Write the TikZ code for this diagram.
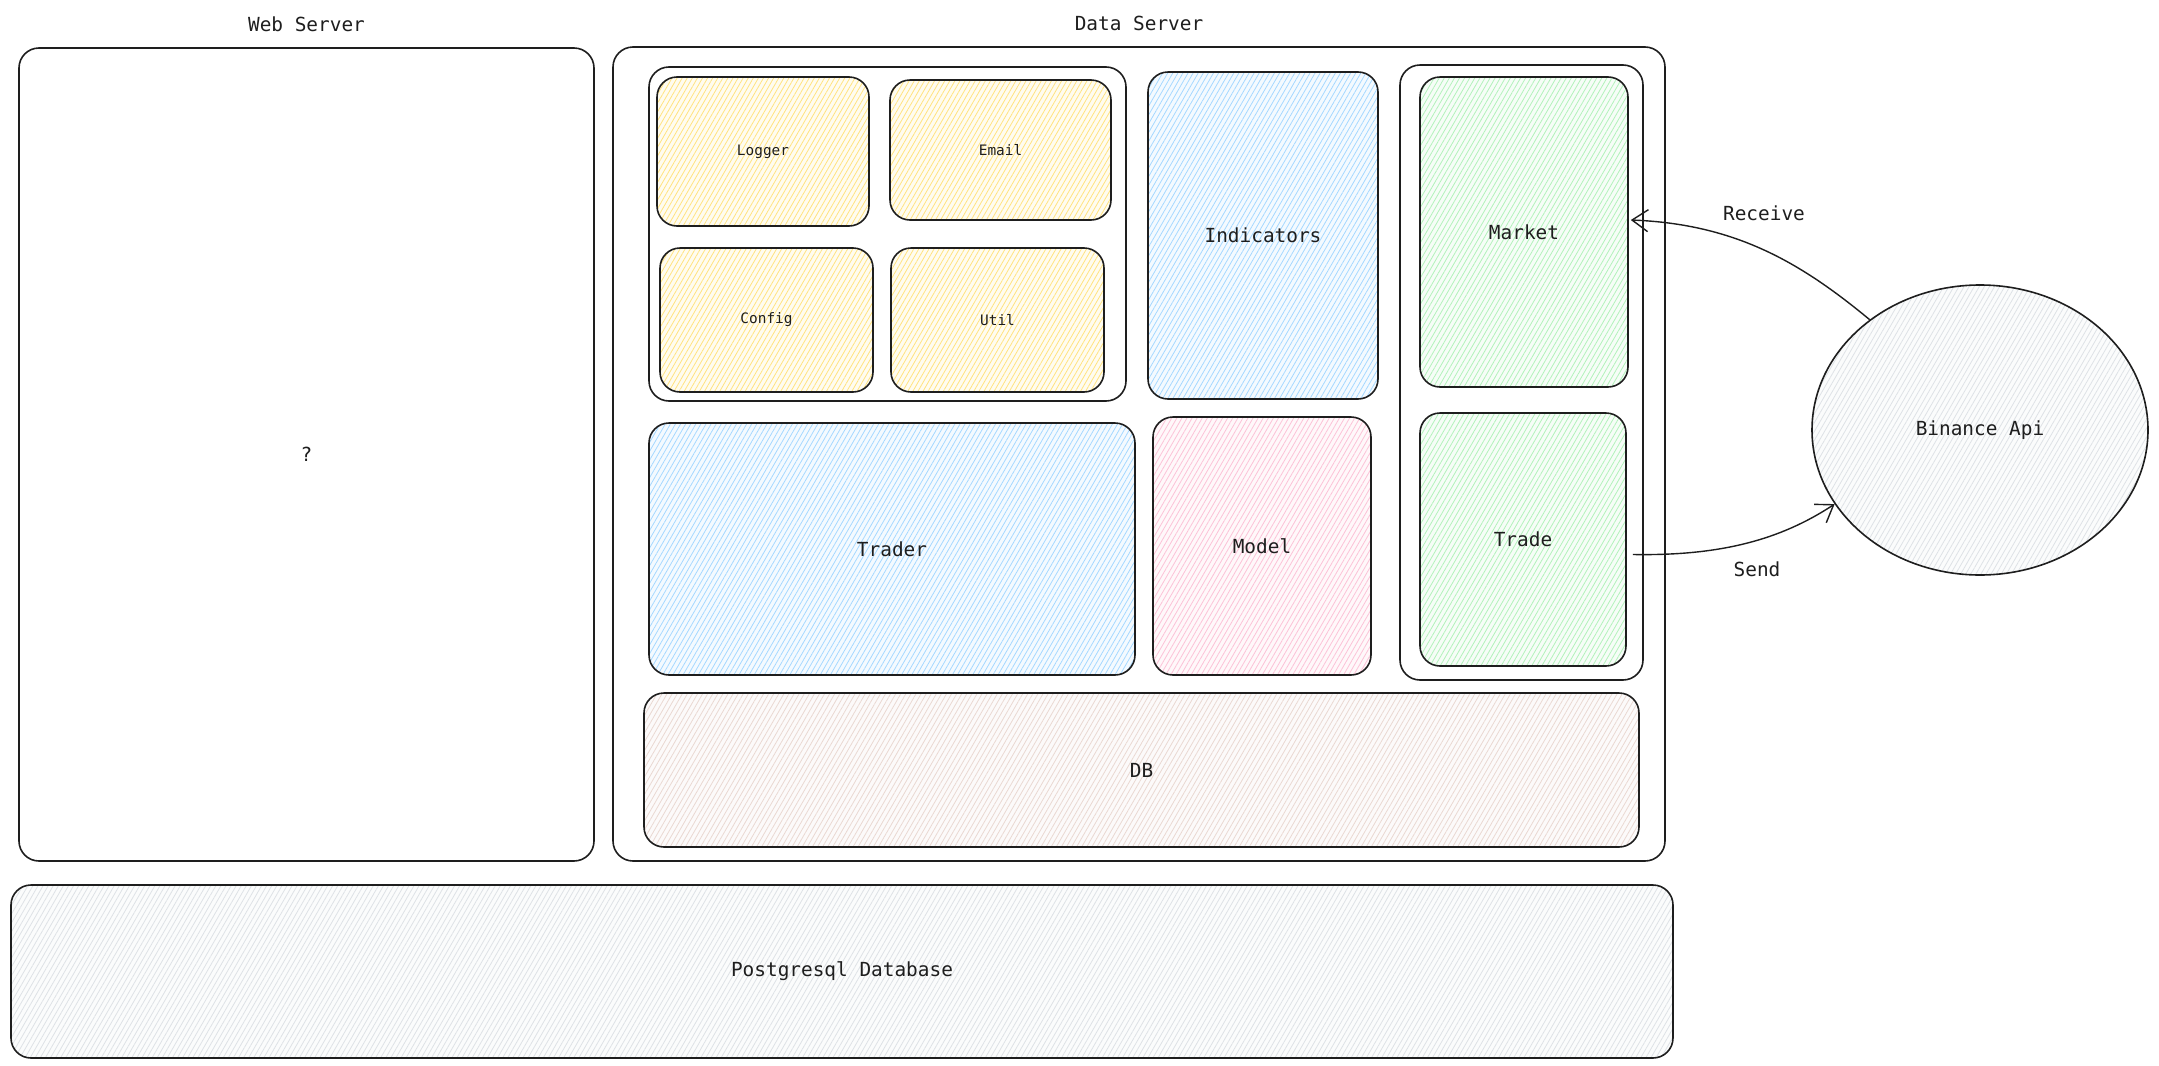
\documentclass[tikz,border=0pt]{standalone}
\usepackage{fontspec}
\setmonofont{DejaVu Sans Mono}
\usetikzlibrary{fit,positioning,calc,shapes.geometric,patterns.meta,arrows.meta}

\definecolor{ink}{HTML}{1E1E1E}
\definecolor{hyellow}{HTML}{FFE380}
\definecolor{hblue}{HTML}{A5D8FF}
\definecolor{hpink}{HTML}{FCC2D7}
\definecolor{hgreen}{HTML}{B2F2BB}
\definecolor{hsand}{HTML}{EAD8D2}
\definecolor{hgray}{HTML}{DEE2E6}

\tikzset{
  box/.style={draw=ink, line width=0.8pt, rounded corners=10pt, inner sep=0pt},
  hatch/.style={preaction={fill=#1!12},
    pattern={Lines[angle=60,distance=2.2pt,line width=0.4pt]}, pattern color=#1},
  lbl/.style={font=\ttfamily\fontsize{9.7}{12}\selectfont, text=ink},
  small/.style={font=\ttfamily\fontsize{7.2}{9}\selectfont, text=ink},
  txt/.style={label={[lbl]center:#1}},
  stxt/.style={label={[small]center:#1}},
  arr/.style={draw=ink, line width=0.7pt, -{Straight Barb[length=8pt,width=11pt]}},
}

\begin{document}
\begin{tikzpicture}[x=0.5pt,y=-0.5pt]
\fill[white] (0,0) rectangle (2159,1066);
\useasboundingbox (0,0) rectangle (2159,1066);

% servers
\node[box, txt=?, fit={(19,48) (594,861)}] (web) {};
\node[box, fit={(613,47) (1665,861)}] (data) {};
\node[lbl, above=4pt of web] (webtitle) {Web Server};
\node[lbl, above=4pt of data] (datatitle) {Data Server};

% helpers
\node[box, fit={(649,67) (1126,401)}] (helpers) {};
\node[box, stxt=Logger, hatch=hyellow, fit={(657,77) (869,226)}] (logger) {};
\node[box, stxt=Email, hatch=hyellow, fit={(890,80) (1111,220)}] (email) {};
\node[box, stxt=Config, hatch=hyellow, fit={(660,248) (873,392)}] (config) {};
\node[box, stxt=Util, hatch=hyellow, fit={(891,248) (1104,392)}] (util) {};

\node[box, txt=Indicators, hatch=hblue, fit={(1148,72) (1378,399)}] (indicators) {};
\node[box, txt=Trader, hatch=hblue, fit={(649,423) (1135,675)}] (trader) {};
\node[box, txt=Model, hatch=hpink, fit={(1153,417) (1371,675)}] (model) {};

% exchange side
\node[box, fit={(1400,65) (1643,680)}] (exchange) {};
\node[box, txt=Market, hatch=hgreen, fit={(1420,77) (1628,387)}] (market) {};
\node[box, txt=Trade, hatch=hgreen, fit={(1420,413) (1626,666)}] (trade) {};

\node[box, txt=DB, hatch=hsand, fit={(644,693) (1639,847)}] (db) {};
\node[box, txt=Postgresql Database, hatch=hgray, fit={(11,885) (1673,1058)}] (postgres) {};

\node[ellipse, draw=ink, line width=0.8pt, hatch=hgray, inner sep=0pt,
  minimum width=168pt, minimum height=145pt, txt=Binance Api] (binance) at (1980,430) {};

\draw[arr] (binance.135) .. controls (1800,262) and (1735,224) .. ($(market.east)+(2,-12)$);
\draw[arr] ($(trade.east)+(6,15)$) .. controls (1720,556) and (1780,540) .. (binance.207);
\node[lbl] (receive) at (1764,213) {Receive};
\node[lbl] (send) at (1757,569) {Send};
\end{tikzpicture}
\end{document}
